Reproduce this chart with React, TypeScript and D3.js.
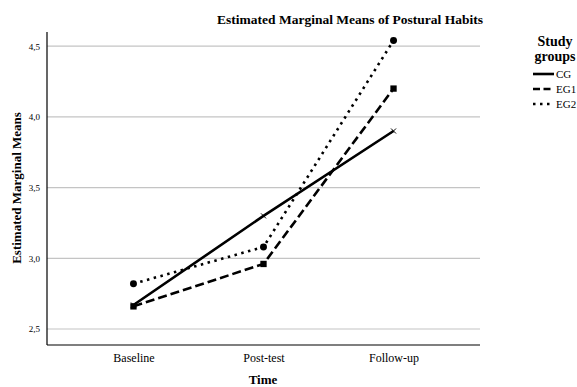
import React, { useEffect, useRef } from 'react';
import * as d3 from 'd3';

const times = ['Baseline', 'Post-test', 'Follow-up'];
const groups = ['CG', 'EG1', 'EG2'];
const cgValues = [2.67, 3.30, 3.90];
const eg1Values = [2.66, 2.96, 4.20];
const eg2Values = [2.82, 3.08, 4.54];
const yTicks = [2.5, 3.0, 3.5, 4.0, 4.5];

const font = '"Liberation Serif", "Times New Roman", serif';

const App = () => {
  const svgRef = useRef<SVGSVGElement>(null);

  useEffect(() => {
    const svg = d3.select(svgRef.current);
    svg.selectAll('*').remove();

    const left = 47, right = 480, top = 32, bottom = 345;

    const x = d3.scalePoint<string>().domain(times).range([left, right]).padding(0.665);
    const y = d3.scaleLinear().domain([2.387, 4.6]).range([bottom, top]);

    // gridlines
    svg.append('g')
      .selectAll('line')
      .data(yTicks)
      .enter()
      .append('line')
      .attr('x1', left).attr('x2', right)
      .attr('y1', d => y(d)).attr('y2', d => y(d))
      .attr('stroke', '#c4c4c4').attr('stroke-width', 1.2);

    // y axis
    const yAxis = svg.append('g')
      .attr('transform', `translate(${left},0)`)
      .call(d3.axisLeft(y).tickValues(yTicks).tickSize(0).tickPadding(7)
        .tickFormat(d => d3.format('.1f')(d as number).replace('.', ',')));
    yAxis.select('.domain').attr('d', `M0,${top}V${bottom}`).attr('stroke', '#000').attr('stroke-width', 1.2);
    yAxis.selectAll('text').style('font-family', font).style('font-size', '9px').attr('fill', '#000');

    // x axis
    const xAxis = svg.append('g')
      .attr('transform', `translate(0,${bottom})`)
      .call(d3.axisBottom(x).tickSize(0).tickPadding(8));
    xAxis.select('.domain').attr('d', `M${left},0H${right}`).attr('stroke', '#000').attr('stroke-width', 1.2);
    xAxis.selectAll('text').style('font-family', font).style('font-size', '12px').attr('fill', '#000');

    const series = [
      { name: 'CG', values: cgValues, dash: null, marker: 'cross' },
      { name: 'EG1', values: eg1Values, dash: '9,4', marker: 'square' },
      { name: 'EG2', values: eg2Values, dash: '2.5,4.5', marker: 'circle' },
    ];

    const line = d3.line<number>()
      .x((_, i) => x(times[i]) as number)
      .y(d => y(d));

    series.forEach(s => {
      svg.append('path')
        .datum(s.values)
        .attr('d', line)
        .attr('fill', 'none')
        .attr('stroke', '#000')
        .attr('stroke-width', 2.6)
        .attr('stroke-dasharray', s.dash);

      const sym = s.marker === 'cross' ? d3.symbolX : s.marker === 'square' ? d3.symbolSquare : d3.symbolCircle;
      const size = s.marker === 'cross' ? 18 : s.marker === 'square' ? 40 : 38;
      svg.append('g')
        .selectAll('path')
        .data(s.values)
        .enter()
        .append('path')
        .attr('transform', (d, i) => `translate(${x(times[i])},${y(d)})`)
        .attr('d', d3.symbol().type(sym).size(size)())
        .attr('fill', '#000')
        .attr('stroke', '#000')
        .attr('stroke-width', s.marker === 'cross' ? 1 : 0);
    });

    // title
    svg.append('text')
      .attr('x', 350).attr('y', 24)
      .attr('text-anchor', 'middle')
      .style('font-family', font).style('font-size', '13.5px').style('font-weight', 'bold')
      .text('Estimated Marginal Means of Postural Habits');

    // axis titles
    svg.append('text')
      .attr('transform', 'rotate(-90)')
      .attr('x', -188).attr('y', 21)
      .attr('text-anchor', 'middle')
      .style('font-family', font).style('font-size', '13px').style('font-weight', 'bold')
      .text('Estimated Marginal Means');

    svg.append('text')
      .attr('x', 263).attr('y', 384)
      .attr('text-anchor', 'middle')
      .style('font-family', font).style('font-size', '13px').style('font-weight', 'bold')
      .text('Time');

    // legend
    const legend = svg.append('g');
    legend.append('text')
      .attr('x', 555).attr('y', 46)
      .attr('text-anchor', 'middle')
      .style('font-family', font).style('font-size', '14px').style('font-weight', 'bold')
      .text('Study');
    legend.append('text')
      .attr('x', 555).attr('y', 61)
      .attr('text-anchor', 'middle')
      .style('font-family', font).style('font-size', '14px').style('font-weight', 'bold')
      .text('groups');

    groups.forEach((g, i) => {
      const ly = 74 + i * 15;
      legend.append('line')
        .attr('x1', 533).attr('x2', 554)
        .attr('y1', ly).attr('y2', ly)
        .attr('stroke', '#000').attr('stroke-width', 2.6)
        .attr('stroke-dasharray', series[i].dash === '9,4' ? '7,3.5' : series[i].dash);
      legend.append('text')
        .attr('x', 556).attr('y', ly + 4)
        .style('font-family', font).style('font-size', '11px')
        .text(g);
    });
  }, []);

  return (
    <svg ref={svgRef} width={577} height={387} style={{ position: 'absolute', left: 0, top: 0, background: '#fff' }} />
  );
};

export default App;
